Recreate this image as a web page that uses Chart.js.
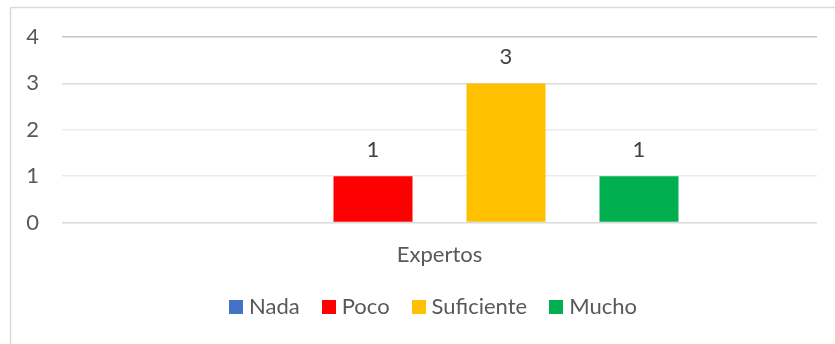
<!DOCTYPE html>
<html>
<head>
<meta charset="utf-8">
<script src="https://cdn.jsdelivr.net/npm/chart.js@4"></script>
<style>
  html, body { margin: 0; padding: 0; background: #ffffff; }
  canvas { display: block; }
</style>
</head>
<body>
<canvas id="chart" width="835" height="344"></canvas>
<script>
// Survey answers given by the expert panel
const categories = ['Expertos'];
const seriesNames = ['Nada', 'Poco', 'Suficiente', 'Mucho'];
const nada = [0];
const poco = [1];
const suficiente = [3];
const mucho = [1];
const yTicks = [0, 1, 2, 3, 4];

const seriesColors = ['#4472C4', '#FF0000', '#FFC000', '#00B050'];
const textColor = '#595959';
const fontFamily = 'Lato, "Open Sans", sans-serif';

// Thin frame along the top and left edges of the chart box
const framePlugin = {
  id: 'frame',
  beforeDraw(chart) {
    const ctx = chart.ctx;
    ctx.save();
    ctx.strokeStyle = '#d9d9d9';
    ctx.lineWidth = 1.5;
    ctx.beginPath();
    ctx.moveTo(10.5, chart.height);
    ctx.lineTo(10.5, 7.5);
    ctx.lineTo(chart.width, 7.5);
    ctx.stroke();
    ctx.restore();
  }
};

// Value labels above each non-zero bar
const valueLabels = {
  id: 'valueLabels',
  afterDatasetsDraw(chart) {
    const ctx = chart.ctx;
    ctx.save();
    ctx.font = '22px ' + fontFamily;
    ctx.fillStyle = '#404040';
    ctx.textAlign = 'center';
    ctx.textBaseline = 'middle';
    chart.data.datasets.forEach((ds, i) => {
      const meta = chart.getDatasetMeta(i);
      meta.data.forEach((bar, j) => {
        const v = ds.data[j];
        if (v === null || v === 0) return;
        ctx.fillText(String(v), bar.x, bar.y - 26);
      });
    });
    ctx.restore();
  }
};

// Compact legend row under the axis: square swatch, short gap, series name
const legendRow = {
  id: 'legendRow',
  afterDraw(chart) {
    const ctx = chart.ctx;
    const box = 14, gap = 6, spacing = 22;
    const centerX = 433, centerY = 307;
    ctx.save();
    ctx.font = '22px ' + fontFamily;
    ctx.textBaseline = 'middle';
    ctx.textAlign = 'left';
    const items = chart.data.datasets.map(ds => ({
      text: ds.label,
      color: ds.backgroundColor,
      w: box + gap + ctx.measureText(ds.label).width
    }));
    const total = items.reduce((s, it) => s + it.w, 0) + spacing * (items.length - 1);
    let x = centerX - total / 2;
    items.forEach(it => {
      ctx.fillStyle = it.color;
      ctx.fillRect(Math.round(x), centerY - box / 2, box, box);
      ctx.fillStyle = textColor;
      ctx.fillText(it.text, x + box + gap, centerY);
      x += it.w + spacing;
    });
    ctx.restore();
  }
};

const values = [nada, poco, suficiente, mucho];

new Chart(document.getElementById('chart'), {
  type: 'bar',
  data: {
    labels: categories,
    datasets: seriesNames.map((name, i) => ({
      label: name,
      data: values[i],
      backgroundColor: seriesColors[i],
      borderWidth: 0,
      categoryPercentage: 0.7046,
      barPercentage: 0.594
    }))
  },
  options: {
    responsive: false,
    animation: false,
    devicePixelRatio: 1,
    layout: { padding: { left: 10, right: 18, top: 37, bottom: 77.5 } },
    plugins: {
      tooltip: { enabled: false },
      legend: { display: false }
    },
    scales: {
      x: {
        afterFit(scale) { scale.height = 44; },
        grid: { display: false },
        border: { display: false },
        ticks: {
          color: textColor,
          padding: 11,
          font: { family: fontFamily, size: 22 }
        }
      },
      y: {
        min: 0,
        max: 4,
        afterBuildTicks(scale) {
          scale.ticks = yTicks.map(v => ({ value: v }));
        },
        afterFit(scale) { scale.width = 52; },
        border: { display: false },
        grid: {
          drawTicks: false,
          lineWidth: 1.5,
          color(ctx) {
            const v = ctx.tick ? ctx.tick.value : 0;
            if (v === 4) return '#c4c4c4';
            if (v === 1 || v === 2) return '#ebebeb';
            return '#d9d9d9';
          }
        },
        ticks: {
          color: textColor,
          padding: 23,
          font: { family: fontFamily, size: 22 }
        }
      }
    }
  },
  plugins: [framePlugin, valueLabels, legendRow]
});
</script>
</body>
</html>
